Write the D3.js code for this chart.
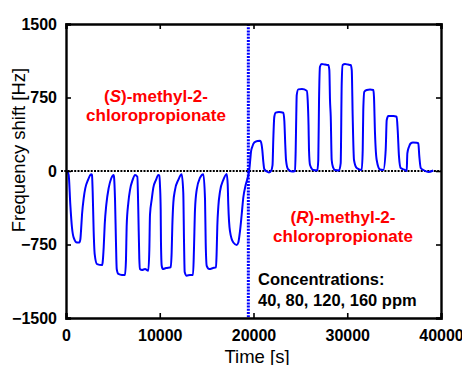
<!DOCTYPE html>
<html>

<head>
    <meta charset="UTF-8">
    <title>Frequency shift</title>
    <script type="text/javascript" src="https://d3js.org/d3.v7.min.js"></script>
    <style>
        body { margin: 0; background: #fff; }
        .axis text { font-family: Arial, "Liberation Sans", sans-serif; font-weight: bold; font-size: 16px; fill: #000; }
        .axis path, .axis line { stroke: #000; }
    </style>
</head>

<body>
    <svg id="chart"></svg>

    <script type="text/javascript">
        // data: time [s] and frequency shift [Hz]
        // (S)-methyl-2-chloropropionate exposures
        const sTime = [0, 107, 285, 460, 640, 820, 1170, 1420, 1530, 1600, 1710, 1890, 2060, 2350, 2600, 2700,
            2770, 2845, 2950, 3060, 3310, 3840, 3910, 4020, 4130, 4300, 4550, 4830, 5090,
            5120, 5230, 5330, 5410, 5580, 5970, 6290, 6400, 6470, 6650, 6830, 7110, 7360,
            7610, 7710, 7820, 7890, 8110, 8430, 8780, 8890, 8960, 9140, 9310, 9600, 9850,
            9950, 10030, 10100, 10130, 10210, 10320, 10670, 11170, 11270, 11340, 11450, 11630, 11980, 12340,
            12510, 12590, 12660, 12870, 13230, 13550, 13650, 13760, 13940, 14290, 14650,
            14830, 14900, 15010, 15290, 15680, 16000, 16070, 16140, 16250, 16430, 16780, 17140,
            17250, 17310, 17490, 17850, 18210, 18380, 18560, 18740, 18910, 19170, 19450];
        const sShift = [0, 0, -40, -343, -579, -680, -730, -730, -697, -613, -444, -276, -175, -91, -40, -33,
            -40, -209, -613, -848, -950, -960, -932, -781, -545, -343, -175, -74, -40,
            -58, -293, -727, -1000, -1050, -1060, -1060, -899, -563, -323, -192, -91, -40,
            -58, -394, -899, -1000, -1010, -1000, -1017, -798, -444, -293, -172, -91, -40,
            -45, -159, -394, -727, -967, -1000, -990, -983, -828, -563, -323, -192, -91, -33,
            -222, -727, -1030, -1068, -1060, -1060, -798, -394, -192, -71, -33,
            -293, -727, -967, -1000, -990, -983, -828, -563, -361, -209, -91, -30,
            -141, -343, -613, -730, -754, -730, -613, -444, -273, -141, -40];

        // (R)-methyl-2-chloropropionate exposures
        const rTime = [19560, 19650, 19730, 19870, 20080, 20450, 20700, 20800, 20940, 21050, 21150, 21410, 21650, 21870,
            22030, 22110, 22220, 22370, 22720, 23180, 23290, 23390, 23470, 23680, 24110, 24430,
            24500, 24560, 24610, 24780, 25170, 25680, 25780, 25870, 25920, 26030, 26380, 26810,
            26910, 26990, 27090, 27280, 27630, 27980, 28090, 28160, 28240, 28340, 28480, 28690, 29120,
            29300, 29410, 29510, 29760, 30080, 30370, 30480, 30580, 30720, 31010, 31540,
            31650, 31710, 31820, 32080, 32430, 32780, 32850, 32960, 33140, 33490, 33850,
            34100, 34210, 34380, 34910, 35270, 35380, 35520, 35700, 36160,
            36340, 36410, 36590, 36770, 37010, 37410, 37580, 37690, 37840, 38110, 38650, 39180];
        const rShift = [20, 110, 194, 248, 290, 306, 309, 296, 214, 92, 20, -5, -15, 0,
            61, 316, 554, 595, 602, 595, 510, 265, 112, 20, -5, 0,
            214, 554, 775, 833, 836, 819, 724, 469, 214, 61, 10, 5,
            112, 724, 1064, 1091, 1086, 1081, 1030, 724, 554, 112, 40, 10, 5,
            79, 895, 1081, 1091, 1086, 1081, 1030, 554, 112, 30, 10,
            214, 622, 809, 826, 831, 826, 758, 385, 112, 15, 10,
            214, 520, 561, 561, 554, 418, 146, 30, 10,
            0, 180, 248, 282, 291, 289, 282, 146, 30, 10, -10, 5];

        // tick values and the switch-over time
        const xTicks = [0, 10000, 20000, 30000, 40000];
        const yTicks = [-1500, -750, 0, 750, 1500];
        const switchTime = 19450;

        // shape constants
        const width = 462,
            height = 365,
            margin = { top: 24, right: 21, bottom: 47, left: 66 };

        const svg = d3.select('#chart')
            .attr('width', width)
            .attr('height', height);

        // scales
        const x = d3.scaleLinear().domain([0, 40000]).range([margin.left, width - margin.right]);
        const y = d3.scaleLinear().domain([-1500, 1500]).range([height - margin.bottom, margin.top]);

        // zero line (black dots)
        svg.append('line')
            .attr('x1', margin.left - 5)
            .attr('x2', width - margin.right)
            .attr('y1', y(0))
            .attr('y2', y(0))
            .attr('stroke', '#000')
            .attr('stroke-width', 2.2)
            .attr('stroke-dasharray', '2,1.3');

        // the measured curve
        const points = sTime.map((t, i) => [t, sShift[i]])
            .concat(rTime.map((t, i) => [t, rShift[i]]));

        const line = d3.line()
            .x(d => x(d[0]))
            .y(d => y(d[1]))
            .curve(d3.curveMonotoneX);

        svg.append('path')
            .datum(points)
            .attr('fill', 'none')
            .attr('stroke', '#0000ff')
            .attr('stroke-width', 2)
            .attr('d', line);

        // vertical blue dotted separator
        svg.append('line')
            .attr('x1', x(switchTime))
            .attr('x2', x(switchTime))
            .attr('y1', y(1500))
            .attr('y2', y(-1500))
            .attr('stroke', '#0000ff')
            .attr('stroke-width', 3)
            .attr('stroke-dasharray', '2,1.2');

        // axes, ticks pointing inward
        const tickLen = 5;
        svg.append('g')
            .attr('class', 'axis')
            .attr('transform', 'translate(0,' + y(-1500) + ')')
            .call(d3.axisBottom(x).tickValues(xTicks).tickSize(-tickLen).tickPadding(12).tickFormat(d3.format('d')));
        svg.append('g')
            .attr('class', 'axis')
            .attr('transform', 'translate(0,' + y(1500) + ')')
            .call(d3.axisTop(x).tickValues(xTicks).tickSize(-tickLen).tickFormat(''));
        svg.append('g')
            .attr('class', 'axis')
            .attr('transform', 'translate(' + x(0) + ',0)')
            .call(d3.axisLeft(y).tickValues(yTicks).tickSize(-tickLen).tickPadding(9).tickFormat(d3.format('d')));
        svg.append('g')
            .attr('class', 'axis')
            .attr('transform', 'translate(' + x(40000) + ',0)')
            .call(d3.axisRight(y).tickValues(yTicks).tickSize(-tickLen).tickFormat(''));

        svg.selectAll('.axis path').attr('stroke-width', 2.4);
        svg.selectAll('.axis line').attr('stroke-width', 1.6);

        // axis titles
        svg.append('text')
            .attr('x', 257)
            .attr('y', 363)
            .attr('text-anchor', 'middle')
            .style('font-family', 'Arial, "Liberation Sans", sans-serif')
            .style('font-size', '18.5px')
            .text('Time [s]');

        svg.append('text')
            .attr('transform', 'translate(25,150) rotate(-90)')
            .attr('text-anchor', 'middle')
            .style('font-family', 'Arial, "Liberation Sans", sans-serif')
            .style('font-size', '18.5px')
            .text('Frequency shift [Hz]');

        // annotations
        function label(cx, cy, letter) {
            const t = svg.append('text')
                .attr('x', cx)
                .attr('y', cy)
                .attr('text-anchor', 'middle')
                .style('font-family', 'Arial, "Liberation Sans", sans-serif')
                .style('font-weight', 'bold')
                .style('font-size', '17px')
                .attr('fill', '#ff0000');
            t.append('tspan').text('(');
            t.append('tspan').style('font-style', 'italic').text(letter);
            t.append('tspan').text(')-methyl-2-');
            svg.append('text')
                .attr('x', cx)
                .attr('y', cy + 18.5)
                .attr('text-anchor', 'middle')
                .style('font-family', 'Arial, "Liberation Sans", sans-serif')
                .style('font-weight', 'bold')
                .style('font-size', '17px')
                .attr('fill', '#ff0000')
                .text('chloropropionate');
        }
        label(156, 102, 'S');
        label(343, 223, 'R');

        svg.append('text')
            .attr('x', 258)
            .attr('y', 285)
            .style('font-family', 'Arial, "Liberation Sans", sans-serif')
            .style('font-weight', 'bold')
            .style('font-size', '16.5px')
            .text('Concentrations:');
        svg.append('text')
            .attr('x', 258)
            .attr('y', 306)
            .style('font-family', 'Arial, "Liberation Sans", sans-serif')
            .style('font-weight', 'bold')
            .style('font-size', '16.5px')
            .text('40, 80, 120, 160 ppm');
    </script>
</body>

</html>
